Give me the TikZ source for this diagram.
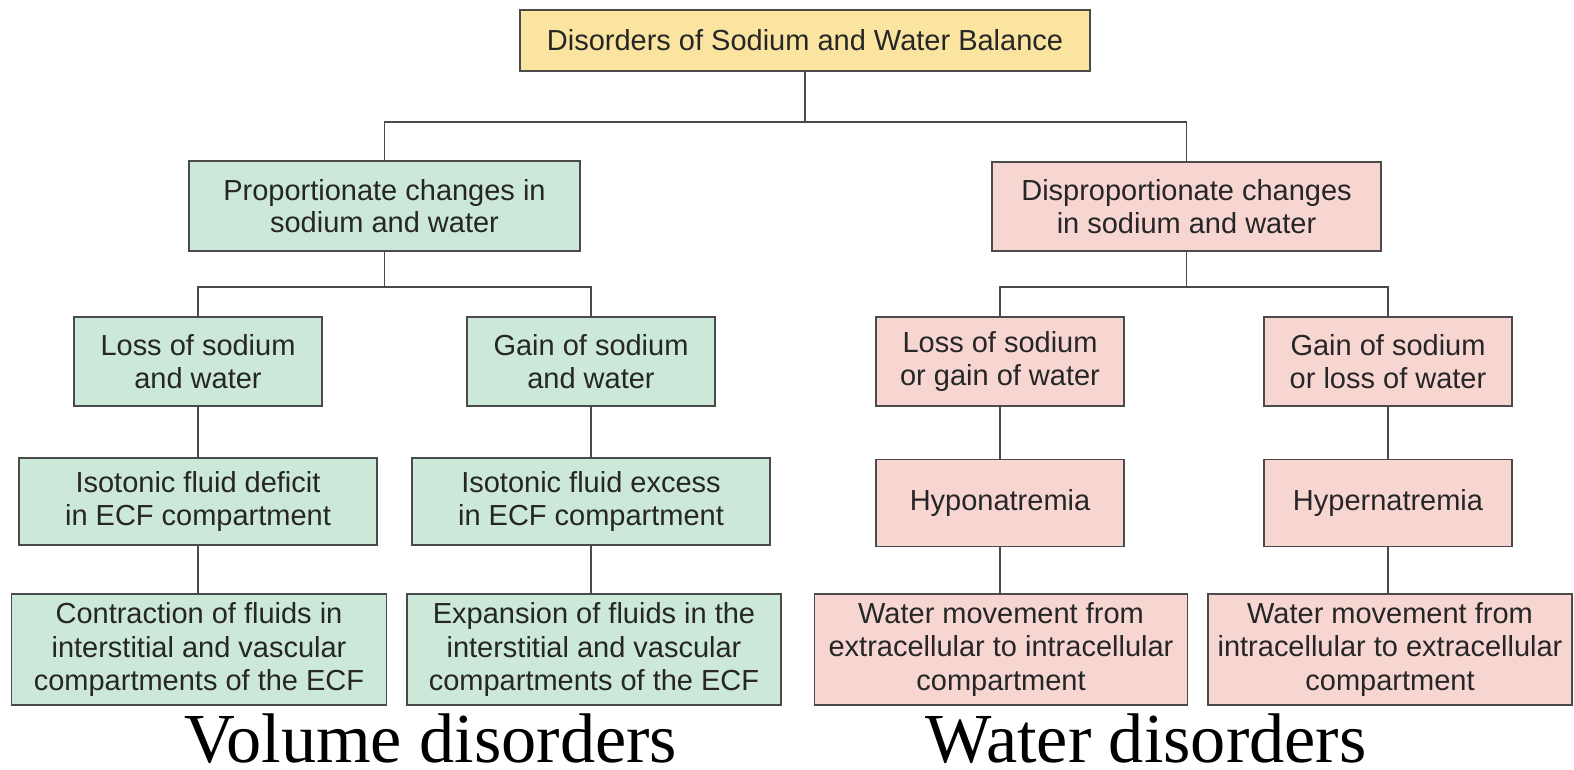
\documentclass[tikz,border=0pt]{standalone}
\usepackage{fontspec}
\setmainfont{Liberation Sans}
\newfontfamily\labelfont{Liberation Serif}
\definecolor{ybox}{HTML}{FAE49F}
\definecolor{gbox}{HTML}{CCE8D9}
\definecolor{pbox}{HTML}{F7D6D2}
\definecolor{edge}{HTML}{4A4A4A}
\definecolor{txt}{HTML}{262626}
\begin{document}
\begin{tikzpicture}[x=0.02cm,y=-0.02cm,
  basebox/.style 2 args={draw=edge, line width=1.1pt, rectangle, align=center,
    inner sep=0pt, minimum width=#1*0.02cm, minimum height=#2*0.02cm,
    text=txt, font=\fontsize{16.5}{18.5}\selectfont},
  ybx/.style 2 args={basebox={#1}{#2}, fill=ybox},
  gbx/.style 2 args={basebox={#1}{#2}, fill=gbox},
  pbx/.style 2 args={basebox={#1}{#2}, fill=pbox},
  conn/.style={draw=edge, line width=1.1pt},
  biglabel/.style={font=\labelfont\fontsize{40}{44}\selectfont, text=black, anchor=base, inner sep=0pt}]
\path[fill=white] (0,0) rectangle (1574,770);
\useasboundingbox (0,0) rectangle (1574,770);

\node[ybx={570}{61}] (top) at (805,40.5) {Disorders of Sodium and Water Balance};

\node[gbx={391}{90}] (prop) at (384.5,206) {Proportionate changes in\\sodium and water};
\node[pbx={389}{89}] (disp) at (1186.5,206.5) {Disproportionate changes\\in sodium and water};

\node[gbx={248}{89}] (lossA) at (198,361.5) {Loss of sodium\\and water};
\node[gbx={248}{89}] (gainA) at (591,361.5) {Gain of sodium\\and water};
\node[pbx={248}{89}] (lossB) at (1000,361.5) {Loss of sodium\\or gain of water};
\node[pbx={248}{89}] (gainB) at (1388,361.5) {Gain of sodium\\or loss of water};

\node[gbx={358}{87}] (deficit) at (198,501.5) {Isotonic fluid deficit\\in ECF compartment};
\node[gbx={358}{87}] (excess) at (591,501.5) {Isotonic fluid excess\\in ECF compartment};
\node[pbx={248}{87}] (hypo) at (1000,503) {Hyponatremia};
\node[pbx={248}{87}] (hyper) at (1388,503) {Hypernatremia};

\node[gbx={375}{111}, font=\fontsize{16.5}{19}\selectfont] (contr) at (199,649.5) {Contraction of fluids in\\interstitial and vascular\\compartments of the ECF};
\node[gbx={374}{111}, font=\fontsize{16.5}{19}\selectfont] (expan) at (594,649.5) {Expansion of fluids in the\\interstitial and vascular\\compartments of the ECF};
\node[pbx={373}{111}, font=\fontsize{16.5}{19}\selectfont] (wmA) at (1001,649.5) {Water movement from\\extracellular to intracellular\\compartment};
\node[pbx={364}{111}, font=\fontsize{16.5}{19}\selectfont] (wmB) at (1390,649.5) {Water movement from\\intracellular to extracellular\\compartment};

% connectors
\draw[conn] (top.south) -- ++(0,50.5) coordinate (j1);
\draw[conn] (prop.north) -- (prop.north |- j1) -- (disp.north |- j1) -- (disp.north);

\draw[conn] (prop.south) -- ++(0,35) coordinate (j2);
\draw[conn] (lossA.north) -- (lossA.north |- j2) -- (gainA.north |- j2) -- (gainA.north);

\draw[conn] (disp.south) -- ++(0,35) coordinate (j3);
\draw[conn] (lossB.north) -- (lossB.north |- j3) -- (gainB.north |- j3) -- (gainB.north);

\draw[conn] (lossA.south) -- (deficit.north);
\draw[conn] (gainA.south) -- (excess.north);
\draw[conn] (lossB.south) -- (hypo.north);
\draw[conn] (gainB.south) -- (hyper.north);

\draw[conn] (deficit.south) -- (deficit.south |- contr.north);
\draw[conn] (excess.south) -- (excess.south |- expan.north);
\draw[conn] (hypo.south) -- (hypo.south |- wmA.north);
\draw[conn] (hyper.south) -- (hyper.south |- wmB.north);

\node[biglabel] (vol) at (431,762) {Volume disorders};
\node[biglabel] (wat) at (1146,762) {Water disorders};
\end{tikzpicture}
\end{document}
